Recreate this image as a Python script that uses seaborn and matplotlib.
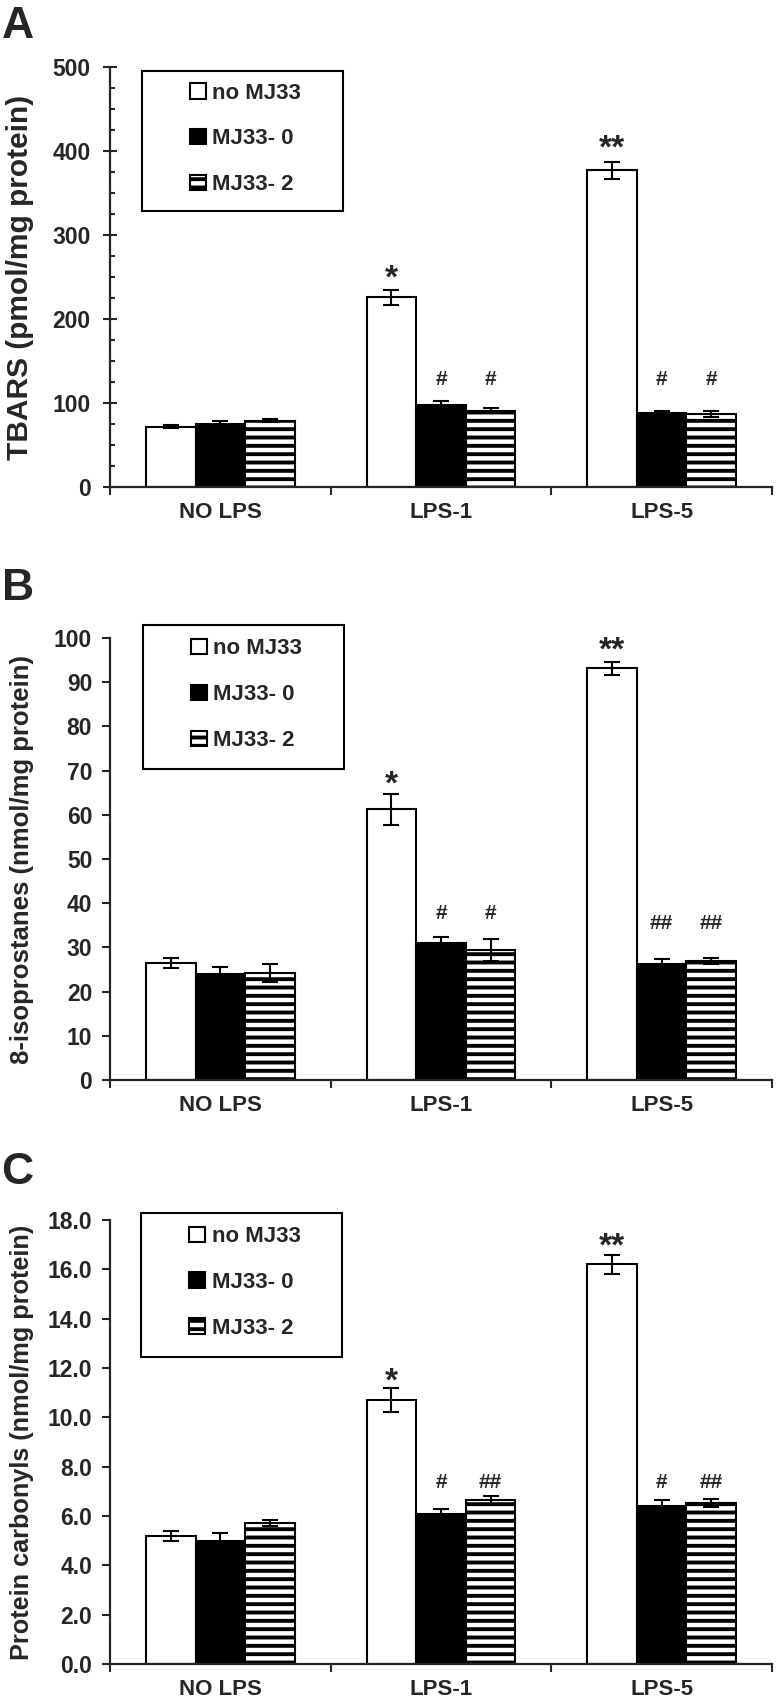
import numpy as np
import pandas as pd
import matplotlib
matplotlib.use("Agg")
import matplotlib.pyplot as plt
import seaborn as sns
from matplotlib.patches import Rectangle
from matplotlib.ticker import MultipleLocator, FormatStrFormatter

groups = ["NO LPS", "LPS-1", "LPS-5"]
treatments = ["no MJ33", "MJ33- 0", "MJ33- 2"]

# A: TBARS (pmol/mg protein)
tbars_no = [72, 226, 377]
tbars_mj0 = [75, 98, 88]
tbars_mj2 = [79, 91, 87]
tbars_no_err = [2, 9, 10]
tbars_mj0_err = [4, 4, 2]
tbars_mj2_err = [2, 3, 4]
tbars_star = ["", "*", "**"]
tbars_hash = [["", "#", "#"], ["", "#", "#"]]

# B: 8-isoprostanes (nmol/mg protein)
iso_no = [26.4, 61.3, 93.1]
iso_mj0 = [24.0, 31.0, 26.3]
iso_mj2 = [24.2, 29.5, 27.0]
iso_no_err = [1.1, 3.5, 1.5]
iso_mj0_err = [1.6, 1.3, 1.0]
iso_mj2_err = [2.1, 2.5, 0.7]
iso_star = ["", "*", "**"]
iso_hash = [["", "#", "##"], ["", "#", "##"]]

# C: protein carbonyls (nmol/mg protein)
carb_no = [5.2, 10.7, 16.2]
carb_mj0 = [5.0, 6.1, 6.4]
carb_mj2 = [5.73, 6.65, 6.53]
carb_no_err = [0.2, 0.5, 0.4]
carb_mj0_err = [0.3, 0.2, 0.25]
carb_mj2_err = [0.12, 0.16, 0.17]
carb_star = ["", "*", "**"]
carb_hash = [["", "#", "#"], ["", "##", "##"]]

sns.set_style("ticks")
plt.rcParams["font.family"] = ["Liberation Sans", "DejaVu Sans"]
plt.rcParams["font.weight"] = "bold"
plt.rcParams["axes.labelweight"] = "bold"
plt.rcParams["hatch.linewidth"] = 2.8

PX = 0.72  # points per pixel at dpi 100


def draw_panel(ax, means, errs, stars, hashes, ylabel, ylabel_size, ymax,
               step, minor, fmt, box, star_gap, hash_gap):
    df = pd.DataFrame({
        "group": np.tile(groups, 3),
        "treatment": np.repeat(treatments, 3),
        "value": np.concatenate(means),
    })
    sns.barplot(data=df, x="group", y="value", hue="treatment",
                order=groups, hue_order=treatments,
                palette=["white", "black", "white"], saturation=1,
                edgecolor="black", linewidth=1.5, width=0.675, gap=0,
                errorbar=None, legend=False, ax=ax, zorder=2)
    for bar in ax.containers[2]:
        bar.set_hatch("--")

    xs, tops = [], []
    for cont, err in zip(ax.containers[:3], errs):
        x = [b.get_x() + b.get_width() / 2 for b in cont]
        y = [b.get_height() for b in cont]
        ax.errorbar(x, y, yerr=err, fmt="none", ecolor="black",
                    elinewidth=1.5, capsize=6, capthick=1.5, zorder=4)
        xs.append(x)
        tops.append(np.array(y) + np.array(err))

    star_size, hash_size = 24, 15
    for j in range(3):
        if stars[j]:
            ax.annotate(stars[j], (xs[0][j], tops[0][j]),
                        xytext=(0, star_gap[j] * PX - 0.376 * star_size),
                        textcoords="offset points", ha="center", va="baseline",
                        fontsize=star_size, fontweight="bold")
        pair_top = max(tops[1][j], tops[2][j])
        for k in (1, 2):
            if hashes[k - 1][j]:
                ax.annotate(hashes[k - 1][j], (xs[k][j], pair_top),
                            xytext=(0, hash_gap[j] * PX),
                            textcoords="offset points", ha="center",
                            va="baseline", fontsize=hash_size,
                            fontweight="bold")

    handles = list(ax.containers[:3])
    x0, y0, x1, y1 = box
    ax.add_patch(Rectangle((x0, y0), x1 - x0, y1 - y0, transform=ax.transAxes,
                           fill=False, edgecolor="black", lw=1.5,
                           clip_on=False, zorder=5))
    ax.legend(handles, treatments, loc="center",
              bbox_to_anchor=((x0 + x1) / 2 + 0.005, (y0 + y1) / 2 + 0.005),
              frameon=False, borderpad=0, handlelength=0.7,
              handleheight=0.7, handletextpad=0.3, labelspacing=1.12,
              prop={"weight": "bold", "size": 16})

    ax.set_xlim(-0.5, 2.5)
    ax.set_ylim(0, ymax)
    ax.yaxis.set_major_locator(MultipleLocator(step))
    ax.yaxis.set_major_formatter(FormatStrFormatter(fmt))
    if minor:
        ax.yaxis.set_minor_locator(MultipleLocator(minor))
        ax.tick_params(axis="y", which="major", direction="inout", length=10,
                       width=1.5, labelsize=16.5, pad=9)
        ax.tick_params(axis="y", which="minor", direction="in", length=3.6,
                       width=1.5)
    else:
        ax.tick_params(axis="y", which="major", direction="out", length=5.8,
                       width=1.5, labelsize=16.5, pad=7)

    ax.set_xticks([-0.5, 0.5, 1.5, 2.5], labels=[])
    ax.set_xticks([0, 1, 2], labels=groups, minor=True)
    ax.tick_params(axis="x", which="major", direction="out", length=5.8,
                   width=1.5)
    ax.tick_params(axis="x", which="minor", length=0, labelsize=16, pad=11)

    ax.set_xlabel("")
    ax.set_ylabel(ylabel, fontsize=ylabel_size, fontweight="bold")
    ax.yaxis.set_label_coords(-0.115, 0.5)
    sns.despine(ax=ax)
    for s in ("left", "bottom"):
        ax.spines[s].set_linewidth(1.6)


fig = plt.figure(figsize=(7.76, 17.04), dpi=100)
left, width = 110 / 776, 662 / 776
ax_a = fig.add_axes([left, 1 - 487 / 1704, width, 420 / 1704])
ax_b = fig.add_axes([left, 1 - 1080 / 1704, width, 442 / 1704])
ax_c = fig.add_axes([left, 1 - 1664 / 1704, width, 444 / 1704])

draw_panel(ax_a, [tbars_no, tbars_mj0, tbars_mj2],
           [tbars_no_err, tbars_mj0_err, tbars_mj2_err],
           tbars_star, tbars_hash, "TBARS (pmol/mg protein)", 21.5,
           500, 100, 25, "%d", (0.0485, 0.657, 0.3515, 0.9905),
           [0, 15, 17], [0, 16, 26])
draw_panel(ax_b, [iso_no, iso_mj0, iso_mj2],
           [iso_no_err, iso_mj0_err, iso_mj2_err],
           iso_star, iso_hash, "8-isoprostanes (nmol/mg protein)", 18.5,
           100, 10, None, "%d", (0.05, 0.7036, 0.353, 1.0294),
           [0, 13, 15], [0, 18, 29])
draw_panel(ax_c, [carb_no, carb_mj0, carb_mj2],
           [carb_no_err, carb_mj0_err, carb_mj2_err],
           carb_star, carb_hash, "Protein carbonyls (nmol/mg protein)", 18.2,
           18, 2, None, "%.1f", (0.0465, 0.6921, 0.351, 1.0164),
           [0, 10, 12], [0, 8, 11])

for letter, ytop in (("A", 6), ("B", 568), ("C", 1152)):
    fig.text(0.002, 1 - ytop / 1704, letter, fontsize=32, fontweight="bold",
             ha="left", va="top")

fig.savefig("out.png", dpi=100)
plt.close(fig)
